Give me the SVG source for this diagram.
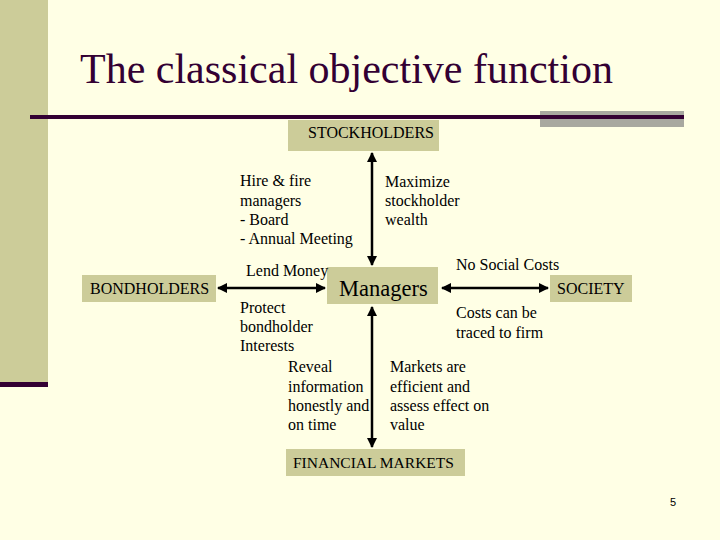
<svg xmlns="http://www.w3.org/2000/svg" width="720" height="540" viewBox="0 0 720 540">
<defs>
<style>
text{font-family:"Liberation Serif","Times New Roman",Times,"Nimbus Roman","DejaVu Serif",serif}
.t{font-size:16px;fill:#000}
.box{fill:#CCCC99}
.con{stroke:#000;stroke-width:2.5;fill:none;marker-start:url(#ah);marker-end:url(#ah)}
</style>
<marker id="ah" viewBox="0 0 10 10" refX="9" refY="5" markerWidth="4" markerHeight="4" orient="auto-start-reverse" markerUnits="strokeWidth">
<path d="M0,0 L10,5 L0,10 z" fill="#000"/>
</marker>
</defs>
<rect x="0" y="0" width="720" height="540" fill="#FFFFE5"/>
<rect x="0" y="0" width="48" height="382" fill="#CCCC99"/>
<rect x="0" y="382" width="48" height="5" fill="#330033"/>
<rect x="540" y="111" width="144" height="16" fill="#A8A8A0"/>
<rect x="30" y="115" width="654" height="4" fill="#330033"/>
<text x="80" y="83" font-size="42" fill="#330033">The classical objective function</text>

<g id="connectors">
<line class="con" x1="372" y1="153" x2="372" y2="265"/>
<line class="con" x1="372" y1="307" x2="372" y2="447"/>
<line class="con" x1="218" y1="288" x2="325" y2="288"/>
<line class="con" x1="442" y1="288" x2="548" y2="288"/>
</g>

<g id="stockholders">
<rect class="box" x="288" y="120" width="151" height="31"/>
<text class="t" x="308" y="138">STOCKHOLDERS</text>
</g>
<g id="managers">
<rect class="box" x="327" y="267" width="111" height="37"/>
<text class="t" x="339" y="296" style="font-size:22.5px">Managers</text>
</g>
<g id="bondholders">
<rect class="box" x="82" y="275" width="134" height="27"/>
<text class="t" x="90" y="294">BONDHOLDERS</text>
</g>
<g id="society">
<rect class="box" x="550" y="275" width="82" height="27"/>
<text class="t" x="557" y="294">SOCIETY</text>
</g>
<g id="financial-markets">
<rect class="box" x="286" y="449" width="179" height="27"/>
<text class="t" x="293" y="468" style="font-size:15.5px">FINANCIAL MARKETS</text>
</g>

<g id="labels">
<text class="t" x="240" y="186">Hire &amp; fire</text>
<text class="t" x="240" y="206">managers</text>
<text class="t" x="240" y="225">- Board</text>
<text class="t" x="240" y="244">- Annual Meeting</text>
<text class="t" x="385" y="187">Maximize</text>
<text class="t" x="385" y="206">stockholder</text>
<text class="t" x="385" y="225">wealth</text>
<text class="t" x="246" y="276">Lend Money</text>
<text class="t" x="456" y="270">No Social Costs</text>
<text class="t" x="240" y="313">Protect</text>
<text class="t" x="240" y="332">bondholder</text>
<text class="t" x="240" y="351">Interests</text>
<text class="t" x="456" y="318">Costs can be</text>
<text class="t" x="456" y="338">traced to firm</text>
<text class="t" x="288" y="372">Reveal</text>
<text class="t" x="288" y="392">information</text>
<text class="t" x="288" y="411">honestly and</text>
<text class="t" x="288" y="430">on time</text>
<text class="t" x="390" y="372">Markets are</text>
<text class="t" x="390" y="392">efficient and</text>
<text class="t" x="390" y="411">assess effect on</text>
<text class="t" x="390" y="430">value</text>
</g>
<text x="670" y="506" style="font-family:'Liberation Sans',Arial,sans-serif;font-size:11px;fill:#000">5</text>
</svg>
